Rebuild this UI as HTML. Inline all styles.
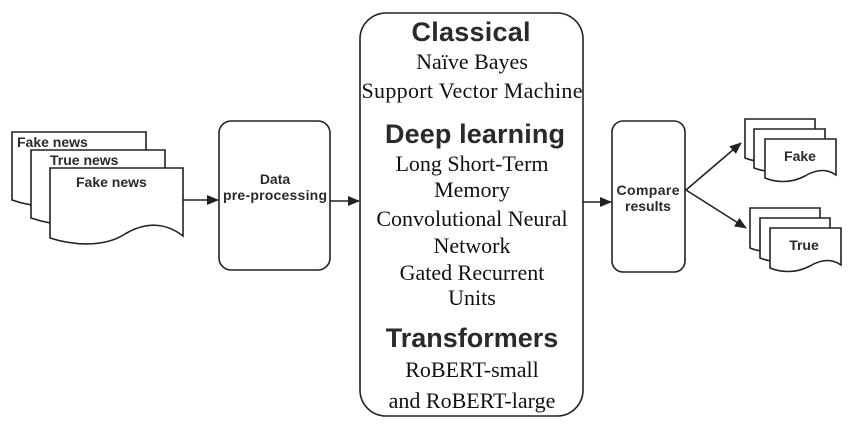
<!DOCTYPE html>
<html><head><meta charset="utf-8"><style>
html,body{margin:0;padding:0;background:#fff;}
svg{display:block}
.s{font-family:"Liberation Sans",sans-serif;font-weight:bold;fill:#2a2a2a}
.r{font-family:"Liberation Serif",serif;fill:#111}
</style></head><body>
<svg width="850" height="429" viewBox="0 0 850 429" xmlns="http://www.w3.org/2000/svg">
<defs><marker id="a" markerWidth="12" markerHeight="10" refX="11" refY="5" orient="auto" markerUnits="userSpaceOnUse"><path d="M0,0 L12,5 L0,10 Z" fill="#222"/></marker></defs>
<g fill="#fff" stroke="#222" stroke-width="1.6">
<path d="M12,132 H146 V190 C125,182 110,186 95,196 C75,208 40,210 12,200 Z"/>
<path d="M31,150 H165 V212 C145,200 125,204 110,214 C90,226 60,228 31,218 Z"/>
<path d="M50,168 H183 V236 C165,222 145,222 125,234 C105,247 75,246 50,238 Z"/>
<rect x="219" y="121" width="111" height="149" rx="12"/>
<rect x="360" y="13" width="223" height="403" rx="26"/>
<rect x="612" y="121" width="73" height="151" rx="11"/>
<path d="M745,119 H815 V152 C805,148 795,150 785,156 C770,164 755,162 745,158 Z"/>
<path d="M754,129 H825 V162 C815,158 805,160 795,166 C780,174 765,172 754,168 Z"/>
<path d="M765,139 H836 V175 C826,168 815,170 805,176 C790,184 775,182 765,178 Z"/>
<path d="M750,208 H820 V242 C810,238 800,240 790,246 C775,254 760,252 750,248 Z"/>
<path d="M760,218 H830 V252 C820,248 810,250 800,256 C785,264 770,262 760,258 Z"/>
<path d="M770,228 H841 V265 C831,258 820,260 810,266 C795,274 780,272 770,268 Z"/>
</g>
<g stroke="#222" stroke-width="1.6" fill="none" marker-end="url(#a)">
<line x1="183" y1="200" x2="218" y2="200"/>
<line x1="330" y1="201" x2="359" y2="201"/>
<line x1="583" y1="202" x2="611" y2="202"/>
<line x1="686" y1="190" x2="741" y2="143"/>
<line x1="686" y1="190" x2="746" y2="228"/>
</g>
<g class="s" font-size="14">
<text x="17" y="147">Fake news</text>
<text x="50" y="165">True news</text>
<text x="76" y="187">Fake news</text>
<text x="275" y="184" text-anchor="middle">Data</text>
<text x="275" y="200" text-anchor="middle" textLength="104">pre-processing</text>
<text x="648" y="195" text-anchor="middle" textLength="63">Compare</text>
<text x="648" y="211" text-anchor="middle">results</text>
<text x="800" y="161" text-anchor="middle">Fake</text>
<text x="804" y="250" text-anchor="middle">True</text>
</g>
<g text-anchor="middle">
<text class="s" x="471" y="41" font-size="27" textLength="119">Classical</text>
<text class="r" x="472" y="69" font-size="22">Naïve Bayes</text>
<text class="r" x="472" y="98" font-size="22" textLength="221">Support Vector Machine</text>
<text class="s" x="475" y="143" font-size="27" textLength="180">Deep learning</text>
<text class="r" x="472" y="171" font-size="22">Long Short-Term</text>
<text class="r" x="472" y="197" font-size="22">Memory</text>
<text class="r" x="472" y="226" font-size="22">Convolutional Neural</text>
<text class="r" x="472" y="253" font-size="22">Network</text>
<text class="r" x="472" y="280" font-size="22">Gated Recurrent</text>
<text class="r" x="472" y="305" font-size="22">Units</text>
<text class="s" x="472" y="347" font-size="27">Transformers</text>
<text class="r" x="472" y="377" font-size="22">RoBERT-small</text>
<text class="r" x="472" y="408" font-size="22">and RoBERT-large</text>
</g>
</svg>
</body></html>
